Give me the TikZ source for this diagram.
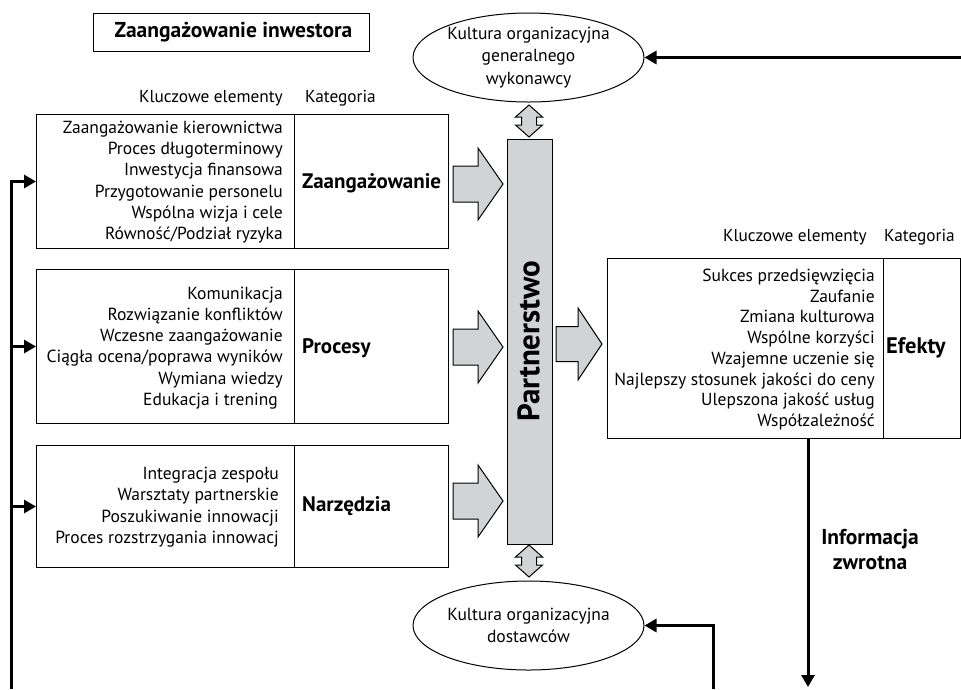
\documentclass[tikz,border=0pt]{standalone}
\usepackage{fontspec}
\setmainfont{PT Sans}
\usetikzlibrary{arrows.meta,shapes.geometric}

\definecolor{bargray}{RGB}{209,211,212}

\tikzset{
  frame/.style={draw=black, line width=1pt},
  cell/.style={frame, inner sep=0pt, anchor=north west},
  body/.style={font=\fontsize{17.5}{21.3}\selectfont, align=right, inner sep=0pt},
  cat/.style={font=\fontsize{21}{24}\selectfont\bfseries, inner sep=0pt, anchor=west},
  head/.style={font=\fontsize{17.3}{20}\selectfont, inner sep=0pt},
  culture/.style={ellipse, frame, minimum width=231pt, minimum height=89pt,
    inner sep=0pt, align=center, font=\fontsize{17.5}{22.5}\selectfont},
  blockarr/.style={draw=black, line width=1pt, fill=bargray, line join=miter},
  fb/.style={line width=3pt, -{Triangle[length=12pt,width=13pt]}},
}

\begin{document}
\begin{tikzpicture}[x=1pt, y=-1pt]
\useasboundingbox (0,0) rectangle (961,689);

% title
\node[frame, minimum width=276pt, minimum height=38pt, inner sep=0pt] (title) at (231,32) {};
\node[inner sep=0pt, font=\fontsize{21.5}{24}\selectfont\bfseries] (titletxt) at (233.5,32) {Zaangażowanie inwestora};

% organisational cultures
\node[culture] (gc) at (528.5,57.5) {Kultura organizacyjna\\generalnego\\wykonawcy};
\node[culture] (sup) at (528.5,625.5) {Kultura organizacyjna\\dostawców};

% column headers, left
\node[head, anchor=east] (hl1) at (283,98) {Kluczowe elementy};
\node[head, anchor=west] (hl2) at (305,98) {Kategoria};
% column headers, right
\node[head, anchor=east] (hr1) at (867,237) {Kluczowe elementy};
\node[head, anchor=west] (hr2) at (884,237) {Kategoria};

% left boxes: key elements and category cells
\node[cell, minimum width=258pt, minimum height=134pt] (b1) at (36,114) {};
\node[cell, minimum width=154pt, minimum height=134pt] (c1) at (294,114) {};
\node[cell, minimum width=258pt, minimum height=154pt] (b2) at (36,269) {};
\node[cell, minimum width=154pt, minimum height=154pt] (c2) at (294,269) {};
\node[cell, minimum width=258pt, minimum height=122pt] (b3) at (36,445) {};
\node[cell, minimum width=154pt, minimum height=122pt] (c3) at (294,445) {};

\node[body, anchor=east] (t1) at (283,182) {Zaangażowanie kierownictwa\\Proces długoterminowy\\Inwestycja finansowa\\Przygotowanie personelu\\Wspólna wizja i cele\\Równość/Podział ryzyka};
\node[body, anchor=east] (t2) at (283,348) {Komunikacja\\Rozwiązanie konfliktów\\Wczesne zaangażowanie\\Ciągła ocena/poprawa wyników\\Wymiana wiedzy\\Edukacja i trening\hspace*{5pt}};
\node[body, anchor=east] (t3) at (279,507) {Integracja zespołu\\Warsztaty partnerskie\\Poszukiwanie innowacji\\Proces rozstrzygania innowacj};

\node[cat] (k1) at (302,183) {Zaangażowanie};
\node[cat] (k2) at (302,348) {Procesy};
\node[cat] (k3) at (302,506) {Narzędzia};

% effects box
\node[cell, minimum width=276pt, minimum height=180pt] (eff) at (607,258) {};
\node[cell, minimum width=76.5pt, minimum height=180pt] (effc) at (883,258) {};
\node[body, anchor=east, font=\fontsize{17.5}{20.7}\selectfont] (te) at (875,349.5) {Sukces przedsięwzięcia\\Zaufanie\\Zmiana kulturowa\\Wspólne korzyści\\Wzajemne uczenie się\\Najlepszy stosunek jakości do ceny\\Ulepszona jakość usług\\Współzależność};
\node[cat, font=\fontsize{22.5}{24}\selectfont\bfseries] (ke) at (886,348) {Efekty};

% partnership bar
\node[frame, fill=bargray, minimum width=45pt, minimum height=405pt, inner sep=0pt] (part) at (529.5,341.5) {};
\node[rotate=90, inner sep=0pt, font=\fontsize{31}{34}\selectfont\bfseries] (ptxt) at (528.5,341.5) {Partnerstwo};

% block arrows into and out of the partnership
\foreach \yc in {184,347,501}{
  \path[blockarr] (453,\yc-18) -- (478,\yc-18) -- (478,\yc-36) -- (503,\yc)
    -- (478,\yc+36) -- (478,\yc+18) -- (453,\yc+18) -- cycle;
}
\path[blockarr] (556,344-17.5) -- (578,344-17.5) -- (578,344-36) -- (602,344)
  -- (578,344+36) -- (578,344+17.5) -- (556,344+17.5) -- cycle;

% double arrows between the bar and the cultures
\foreach \yt in {105,545}{
  \path[blockarr] (529,\yt) -- (542.5,\yt+12) -- (536.5,\yt+12) -- (536.5,\yt+20)
    -- (542.5,\yt+20) -- (529,\yt+32) -- (515.5,\yt+20) -- (521.5,\yt+20)
    -- (521.5,\yt+12) -- (515.5,\yt+12) -- cycle;
}

% feedback loops
\coordinate (lb) at (11,689);
\draw[fb, line join=miter] (lb) |- (b1.west);
\draw[fb] (lb |- b2.west) -- (b2.west);
\draw[fb] (lb |- b3.west) -- (b3.west);

\coordinate (tr) at (961,57.5);
\draw[fb] (tr) -- (gc.east);

\coordinate (bb) at (713,689);
\draw[fb, line join=miter] (bb) |- (sup.east);

\coordinate (fbend) at (808,687);
\draw[fb] (fbend |- eff.south) -- (fbend);
\node[inner sep=0pt, align=center, font=\fontsize{21.5}{25}\selectfont\bfseries] (fbl) at (870,549.5) {Informacja\\zwrotna};

\end{tikzpicture}
\end{document}
